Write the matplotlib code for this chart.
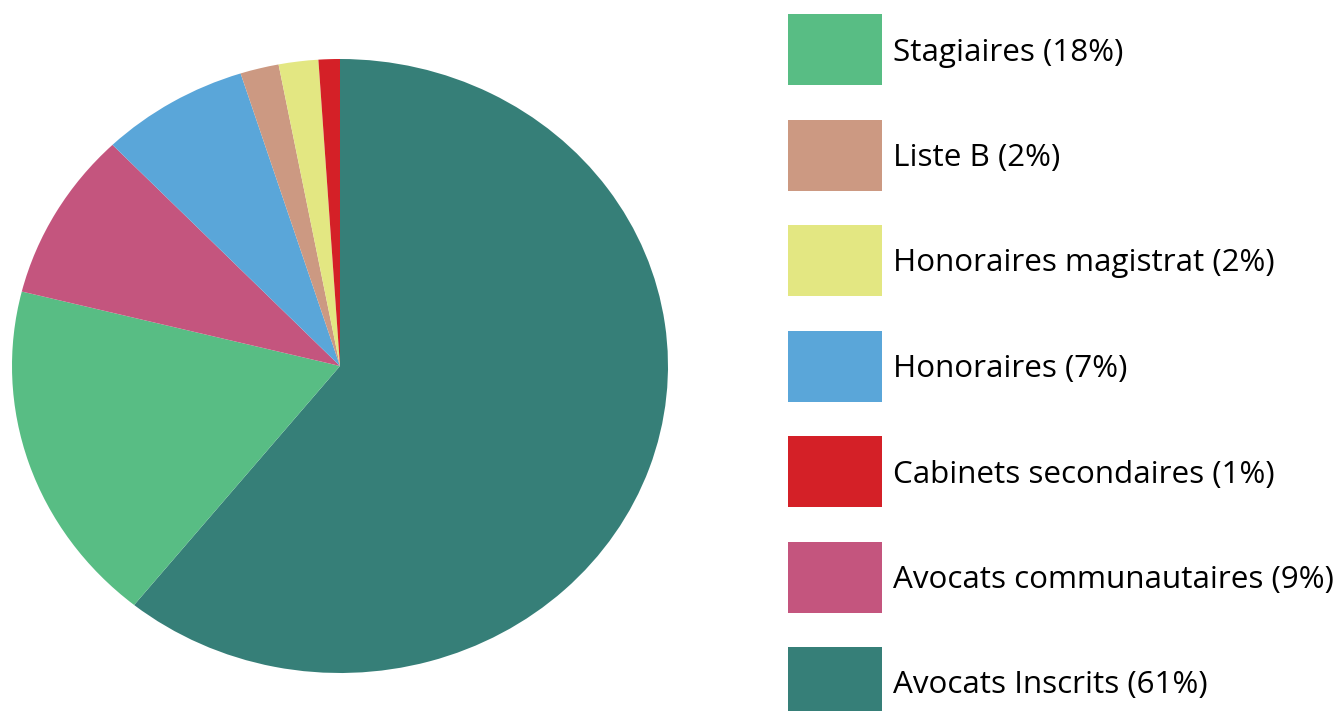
import matplotlib
matplotlib.use("Agg")
import matplotlib.pyplot as plt
from matplotlib.patches import Rectangle

# Slice order as drawn: clockwise from 12 o'clock
pie_labels = [
    "Avocats Inscrits",
    "Stagiaires",
    "Avocats communautaires",
    "Honoraires",
    "Liste B",
    "Honoraires magistrat",
    "Cabinets secondaires",
]
pie_values = [60.8, 18.1, 8.9, 7.3, 1.9, 1.95, 1.05]
pie_colors = ["#367f78", "#58bd84", "#c4557e", "#5aa6d9", "#cc9982", "#e3e782", "#d42027"]

# Legend order and text as shown
legend_labels = [
    "Stagiaires (18%)",
    "Liste B (2%)",
    "Honoraires magistrat (2%)",
    "Honoraires (7%)",
    "Cabinets secondaires (1%)",
    "Avocats communautaires (9%)",
    "Avocats Inscrits (61%)",
]
legend_colors = ["#58bd84", "#cc9982", "#e3e782", "#5aa6d9", "#d42027", "#c4557e", "#367f78"]

W, H = 1338, 711
fig = plt.figure(figsize=(W / 100, H / 100), dpi=100)
fig.patch.set_facecolor("white")

# pie area in pixels: x 12..668, y 59..673 (top-down)
ax = fig.add_axes([12 / W, (H - 673) / H, 656 / W, 614 / H])
ax.pie(pie_values, colors=pie_colors, startangle=90, counterclock=False,
       radius=1, wedgeprops=dict(linewidth=0))
ax.set_aspect("auto")
ax.set_xlim(-1, 1)
ax.set_ylim(-1, 1)
ax.axis("off")

# legend drawn in pixel coordinates
lg = fig.add_axes([0, 0, 1, 1], facecolor="none")
lg.set_xlim(0, W)
lg.set_ylim(H, 0)
lg.axis("off")
for i, (lab, col) in enumerate(zip(legend_labels, legend_colors)):
    top = 14 + 105.5 * i
    lg.add_patch(Rectangle((788, top), 94, 71, facecolor=col, edgecolor="none"))
    lg.text(893, top + 38.5, lab, fontsize=22.6, family="Open Sans",
            va="center", ha="left", color="black")

fig.savefig("out.png", dpi=100)
